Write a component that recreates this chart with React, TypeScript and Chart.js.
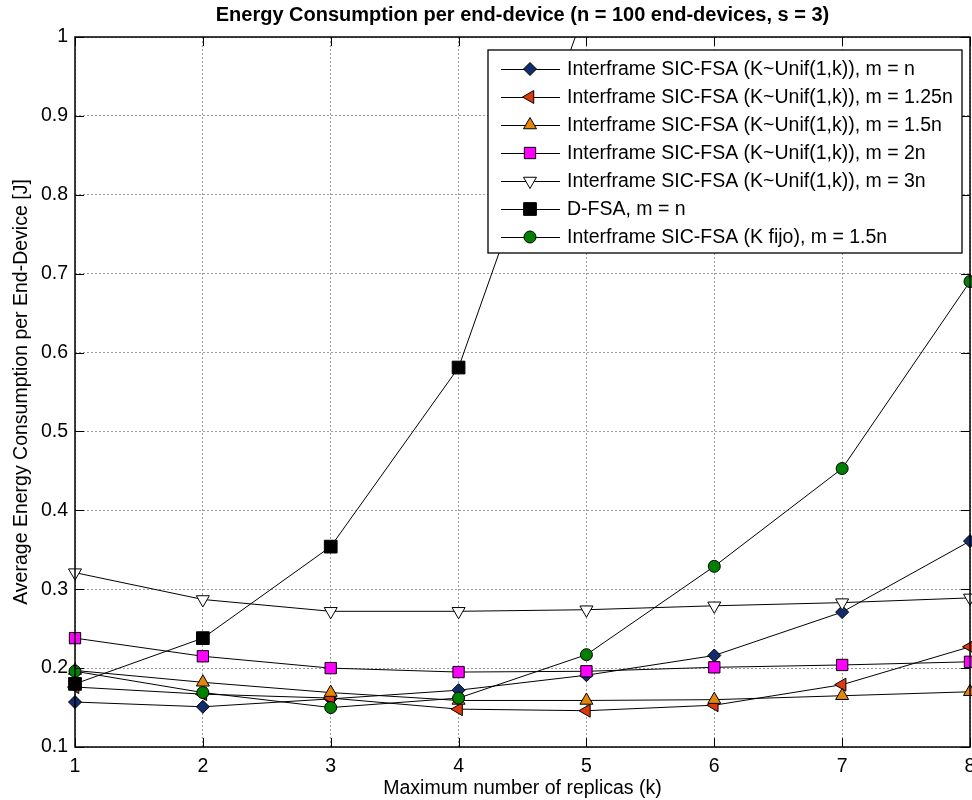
import React, { useEffect, useRef } from 'react';
import { Chart, registerables } from 'chart.js';
import { drawPoint } from 'chart.js/helpers';

Chart.register(...registerables);

const FONT = "'Liberation Sans', Arial, Helvetica, sans-serif";

// ---- data ----
const kValues = [1, 2, 3, 4, 5, 6, 7, 8];

const unifM1 = [0.157, 0.151, 0.161, 0.172, 0.191, 0.216, 0.271, 0.361];
const unifM125 = [0.176, 0.167, 0.162, 0.148, 0.146, 0.153, 0.179, 0.227];
const unifM15 = [0.197, 0.182, 0.169, 0.159, 0.159, 0.160, 0.165, 0.170];
const unifM2 = [0.238, 0.215, 0.200, 0.195, 0.196, 0.201, 0.204, 0.208];
const unifM3 = [0.321, 0.287, 0.272, 0.272, 0.274, 0.279, 0.283, 0.289];
const dfsaM1 = [0.180, 0.238, 0.354, 0.581, 1.04, null, null, null];
const fixedKM15 = [0.196, 0.169, 0.150, 0.162, 0.217, 0.329, 0.453, 0.690];

const seriesLabels = [
  'Interframe SIC-FSA (K~Unif(1,k)), m = n',
  'Interframe SIC-FSA (K~Unif(1,k)), m = 1.25n',
  'Interframe SIC-FSA (K~Unif(1,k)), m = 1.5n',
  'Interframe SIC-FSA (K~Unif(1,k)), m = 2n',
  'Interframe SIC-FSA (K~Unif(1,k)), m = 3n',
  'D-FSA, m = n',
  'Interframe SIC-FSA (K fijo), m = 1.5n',
];
const seriesValues = [unifM1, unifM125, unifM15, unifM2, unifM3, dfsaM1, fixedKM15];

const titleText = 'Energy Consumption per end-device (n = 100 end-devices, s = 3)';
const xTitle = 'Maximum number of replicas (k)';
const yTitle = 'Average Energy Consumption per End-Device [J]';
const yMin = 0.1;
const yMax = 1;
const yStep = 0.1;

// ---- styles ----
const markerStyles = [
  { pointStyle: 'rectRot', rotation: 0, radius: 6.5, color: '#112d6b' },
  { pointStyle: 'triangle', rotation: -90, radius: 7.5, color: '#dc3a0c' },
  { pointStyle: 'triangle', rotation: 0, radius: 7.5, color: '#e5860c' },
  { pointStyle: 'rect', rotation: 0, radius: 8, color: '#ff00ff' },
  { pointStyle: 'triangle', rotation: 180, radius: 7.5, color: '#ffffff' },
  { pointStyle: 'rect', rotation: 0, radius: 9, color: '#000000' },
  { pointStyle: 'circle', rotation: 0, radius: 6, color: '#008000' },
];

const TICK_LEN = 9;

const framePlugin = {
  id: 'matlabFrame',
  afterDatasetsDraw(chart: any) {
    const { ctx, chartArea: a, scales } = chart;
    ctx.save();
    ctx.strokeStyle = '#000';
    ctx.lineWidth = 1;
    ctx.beginPath();
    for (const t of scales.x.ticks) {
      const px = Math.round(scales.x.getPixelForValue(t.value)) + 0.5;
      ctx.moveTo(px, a.bottom);
      ctx.lineTo(px, a.bottom - TICK_LEN);
      ctx.moveTo(px, a.top);
      ctx.lineTo(px, a.top + TICK_LEN);
    }
    for (const t of scales.y.ticks) {
      const py = Math.round(scales.y.getPixelForValue(t.value)) + 0.5;
      ctx.moveTo(a.left, py);
      ctx.lineTo(a.left + TICK_LEN, py);
      ctx.moveTo(a.right, py);
      ctx.lineTo(a.right - TICK_LEN, py);
    }
    ctx.stroke();
    ctx.lineWidth = 1.5;
    ctx.strokeRect(a.left, a.top, a.right - a.left, a.bottom - a.top);
    ctx.restore();
  },
  afterDraw(chart: any) {
    const { ctx, chartArea: a } = chart;
    ctx.save();
    // title
    ctx.fillStyle = '#000';
    ctx.font = `bold 20px ${FONT}`;
    ctx.textAlign = 'center';
    ctx.textBaseline = 'middle';
    ctx.fillText(titleText, (a.left + a.right) / 2, 15);

    // legend box
    const lx = 488, ly = 50, lw = 474, lh = 203;
    ctx.fillStyle = '#fff';
    ctx.fillRect(lx, ly, lw, lh);
    ctx.strokeStyle = '#000';
    ctx.lineWidth = 1.3;
    ctx.strokeRect(lx, ly, lw, lh);
    ctx.font = `19.5px ${FONT}`;
    ctx.textAlign = 'left';
    ctx.textBaseline = 'middle';
    seriesLabels.forEach((label, i) => {
      const cy = 69 + i * 28;
      const st = markerStyles[i];
      ctx.strokeStyle = '#000';
      ctx.lineWidth = 1;
      ctx.beginPath();
      ctx.moveTo(501, cy + 0.5);
      ctx.lineTo(560, cy + 0.5);
      ctx.stroke();
      ctx.fillStyle = st.color;
      ctx.strokeStyle = '#000';
      ctx.lineWidth = 1;
      drawPoint(ctx, { pointStyle: st.pointStyle as any, rotation: st.rotation, radius: st.radius, borderWidth: 1 }, 530, cy);
      ctx.fillStyle = '#000';
      ctx.fillText(label, 567, cy + 1);
    });
    ctx.restore();
  },
};

export default function App() {
  const ref = useRef<HTMLCanvasElement | null>(null);

  useEffect(() => {
    document.body.style.margin = '0';
    const canvas = ref.current;
    if (!canvas) return;
    Chart.defaults.font.family = FONT;
    Chart.defaults.color = '#000';

    const datasets = seriesValues.map((vals, i) => {
      const st = markerStyles[i];
      return {
        label: seriesLabels[i],
        data: kValues.map((k, j) => ({ x: k, y: vals[j] })),
        borderColor: '#000',
        borderWidth: 1,
        backgroundColor: st.color,
        pointBackgroundColor: st.color,
        pointBorderColor: '#000',
        pointBorderWidth: 1,
        pointStyle: st.pointStyle,
        pointRotation: st.rotation,
        pointRadius: st.radius,
        pointHoverRadius: st.radius,
        tension: 0,
        fill: false,
        spanGaps: false,
        order: -i,
        clip: { left: 14, right: 14, top: 0, bottom: 14 },
      };
    });

    const chart = new Chart(canvas, {
      type: 'line',
      data: { datasets: datasets as any },
      options: {
        responsive: false,
        animation: false,
        devicePixelRatio: 1,
        layout: { autoPadding: false, padding: { left: 0, top: 37, right: 2, bottom: 0 } },
        plugins: {
          legend: { display: false },
          title: { display: false },
          tooltip: { enabled: false },
        },
        events: [],
        scales: {
          x: {
            type: 'linear',
            min: kValues[0],
            max: kValues[kValues.length - 1],
            ticks: {
              stepSize: 1,
              font: { size: 19.5, family: FONT },
              color: '#000',
              padding: 8,
              maxRotation: 0,
              callback: (v: any) => String(v),
            },
            grid: { color: '#9a9a9a', lineWidth: 1, drawTicks: false },
            border: { display: false, dash: [2, 2] },
            title: {
              display: true,
              text: xTitle,
              font: { size: 19.5, family: FONT },
              color: '#000',
              padding: { top: 0, bottom: 0 },
            },
            afterFit: (s: any) => {
              s.height = 53;
              s.paddingLeft = 0;
              s.paddingRight = 0;
            },
          },
          y: {
            type: 'linear',
            min: yMin,
            max: yMax,
            ticks: {
              stepSize: yStep,
              font: { size: 19.5, family: FONT },
              color: '#000',
              padding: 7,
              callback: (v: any) => (Math.abs(v - 1) < 1e-9 ? '1' : Number(v).toFixed(1)),
            },
            grid: { color: '#9a9a9a', lineWidth: 1, drawTicks: false },
            border: { display: false, dash: [2, 2] },
            title: {
              display: true,
              text: yTitle,
              font: { size: 19.5, family: FONT },
              color: '#000',
              padding: { top: 10, bottom: 0 },
            },
            afterFit: (s: any) => {
              s.width = 75;
              s.paddingTop = 0;
              s.paddingBottom = 0;
            },
          },
        },
      },
      plugins: [framePlugin],
    });

    return () => chart.destroy();
  }, []);

  return <canvas ref={ref} width={972} height={800} style={{ display: 'block' }} />;
}
